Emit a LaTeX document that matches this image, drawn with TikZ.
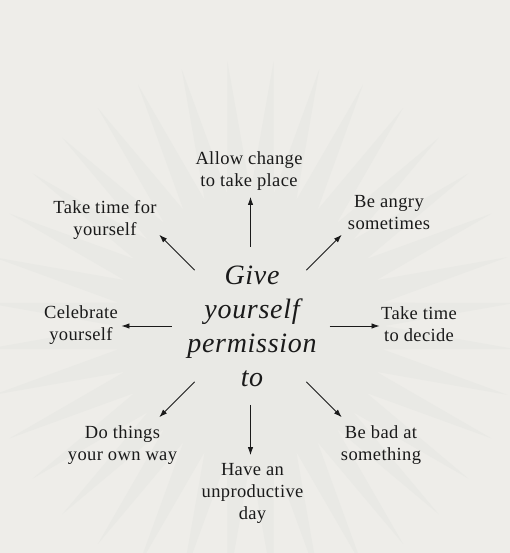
\documentclass[tikz,border=0pt]{standalone}
\usepackage{fontspec}
\setmainfont{Liberation Serif}
\usetikzlibrary{arrows.meta}
\definecolor{paper}{HTML}{EEEDE9}
\definecolor{burst}{HTML}{E9E9E5}
\definecolor{ink}{HTML}{1A1A1A}
\begin{document}
\begin{tikzpicture}[x=1pt,y=1pt,
    wish/.style={align=center,text=ink,inner sep=0pt,
      font=\fontsize{18.5}{22}\selectfont\addfontfeature{LetterSpace=2}},
    hubtext/.style={align=center,text=ink,inner sep=0pt,
      font=\fontsize{28}{34}\selectfont\itshape\addfontfeature{LetterSpace=2.5}}]
  \useasboundingbox (-250.5,-227) rectangle (259.5,326);
  \clip (-250.5,-227) rectangle (259.5,326);
  \fill[paper] (-250.5,-227) rectangle (259.5,326);
  % starburst behind the text
  \fill[burst] (0:134) \foreach \k in {0,...,35} {-- (\k*10+5:266) -- (\k*10+10:134)} -- cycle;
  \draw
    (1.5,-0.3) node[hubtext] (hub){Give\\yourself\\permission\\to}
    (-1.5,155.2) node[wish] (change){Allow change\\to take place}
    (138.5,113.2) node[wish] (angry){Be angry\\sometimes}
    (168.5,1.5) node[wish] (decide){Take time\\to decide}
    (130.5,-119) node[wish] (bad){Be bad at\\something}
    (2,-167) node[wish] (idle){Have an\\unproductive\\day}
    (-128,-119.3) node[wish] (ownway){Do things\\your own way}
    (-169.5,1.4) node[wish] (celebrate){Celebrate\\yourself}
    (-145.5,106.4) node[wish] (metime){Take time for\\yourself};
  \foreach \a in {0,45,...,315} {
    \coordinate (tail\a) at (\a:79);
    \coordinate (tip\a) at (\a:129);
  }
  \begin{scope}[-{Latex[length=8pt,width=5.5pt]},draw=ink,line width=0.8pt]
    \draw (tail0) to (tip0);
    \draw (tail45) to (tip45);
    \draw (tail90) to (tip90);
    \draw (tail135) to (tip135);
    \draw (tail180) to (tip180);
    \draw (tail225) to (tip225);
    \draw (tail270) to (tip270);
    \draw (tail315) to (tip315);
  \end{scope}
\end{tikzpicture}
\end{document}
